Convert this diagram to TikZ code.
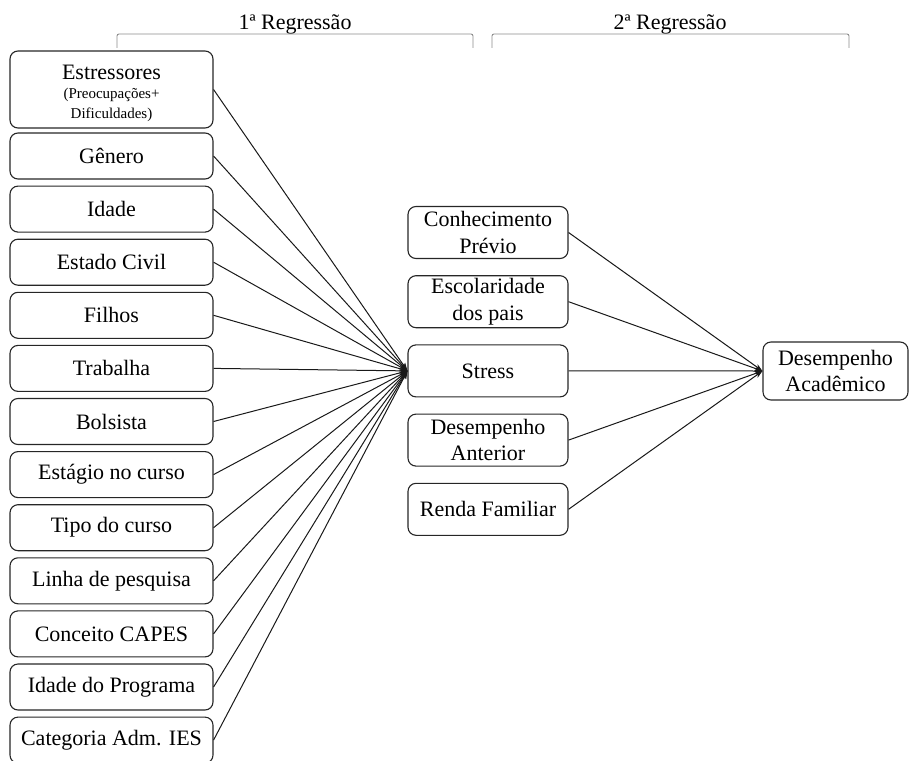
\documentclass[tikz,border=0pt]{standalone}
\usepackage{fontspec}
\setmainfont{Liberation Serif}
\usetikzlibrary{arrows.meta}

\begin{document}
\begin{tikzpicture}[
    x=1pt, y=-1pt,
    >={Stealth[length=8pt, width=5.5pt]},
    box/.style={draw=black!85, line width=1.1pt, rounded corners=8pt, align=center, inner sep=0pt, font=\fontsize{22}{26.5}\selectfont, #1},
    link/.style={->, line width=1pt, black!90},
    bracket/.style={draw=black!45, line width=0.9pt, rounded corners=2pt},
]
    \useasboundingbox (0,0) rectangle (912,760);

    % Headers
    \node[anchor=base, font=\fontsize{22}{26.5}\selectfont] (reg1) at (295, 30) {1ª Regressão};
    \node[anchor=base, font=\fontsize{22}{26.5}\selectfont] (reg2) at (670, 30) {2ª Regressão};
    \draw[bracket] (117,48) -- (117,34) -- (473,34) -- (473,48);
    \draw[bracket] (492,48) -- (492,34) -- (849,34) -- (849,48);

    % Estressores
    \node[box={minimum width=203pt, minimum height=77pt}] (estr) at (111.5, 89.5) {};
    \node[anchor=base, font=\fontsize{22}{26.5}\selectfont] (estrT) at (111.5, 79) {Estressores};
    \node[font=\fontsize{15}{20.5}\selectfont, align=center] (estrS) at (111.5, 105) {(Preocupações+\\Dificuldades)};

    % Left column
    \foreach \txt [count=\i] in {Gênero, Idade, Estado Civil, Filhos, Trabalha, Bolsista, Estágio no curso, Tipo do curso, Linha de pesquisa, Conceito CAPES, Idade do Programa, Categoria Adm. IES}
        \node[box={minimum width=203pt, minimum height=46pt}] (var\i) at (111.5, {156+53.1*(\i-1)}) {\txt};

    % Middle column
    \foreach \txt [count=\i] in {Conhecimento\\Prévio, Escolaridade\\dos pais, Stress, Desempenho\\Anterior, Renda Familiar}
        \node[box={minimum width=160pt, minimum height=52pt}] (mid\i) at (488, {232.5+69.2*(\i-1)}) {\txt};

    % Outcome
    \node[box={minimum width=145pt, minimum height=58pt}] (desemp) at (835.5, 371) {Desempenho\\Acadêmico};

    % Links
    \draw[link] (estr.east) -- (mid3.west);
    \foreach \i in {1,...,12}
        \draw[link] (var\i.east) -- (mid3.west);
    \foreach \i in {1,...,5}
        \draw[link] (mid\i.east) -- (desemp.west);
\end{tikzpicture}
\end{document}
